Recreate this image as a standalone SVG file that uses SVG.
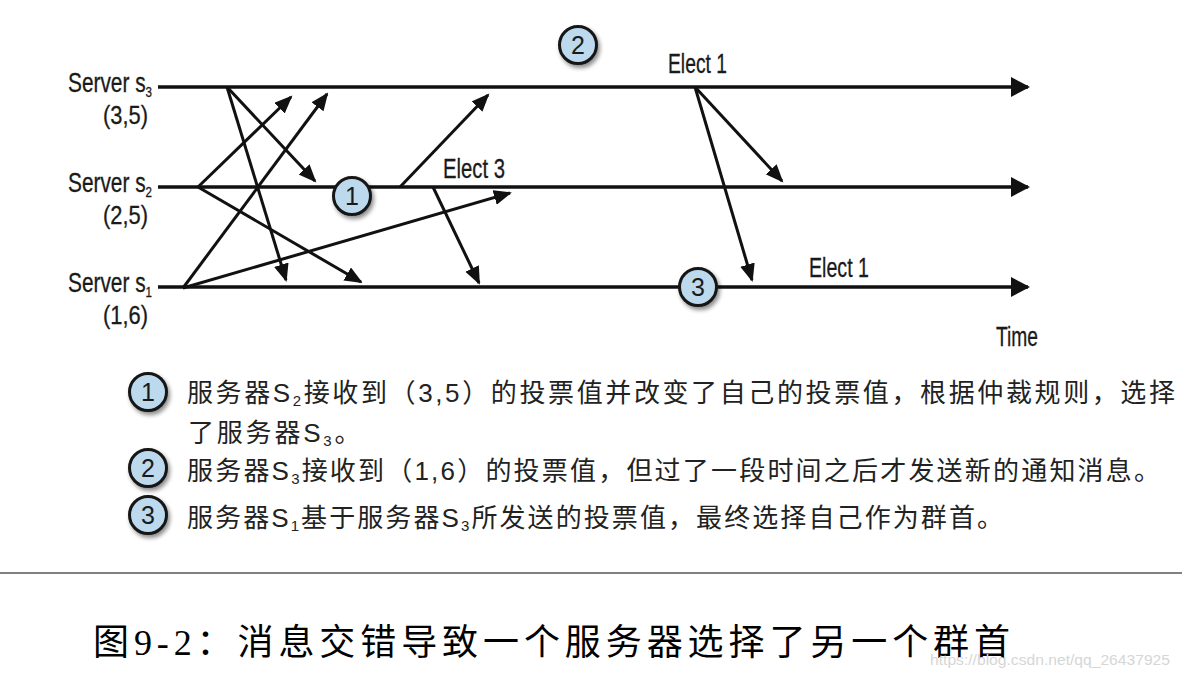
<svg xmlns="http://www.w3.org/2000/svg" width="1182" height="678" viewBox="0 0 1182 678">
  <style>
    .lbl { font-family: "Liberation Sans", Arial, sans-serif; font-size: 27px; fill: #1a1a1a; stroke: #1a1a1a; stroke-width: 0.3px; }
    .coord { font-family: "Liberation Sans", Arial, sans-serif; font-size: 25px; fill: #1a1a1a; stroke: #1a1a1a; stroke-width: 0.3px; text-anchor: end; }
    .sub { font-size: 15px; }
    .num { font-family: "Liberation Sans", Arial, sans-serif; font-size: 25px; fill: #1a1a1a; text-anchor: middle; }
    .timeline { stroke: #111; stroke-width: 3.5; fill: none; }
    .msg { stroke: #111; stroke-width: 3; fill: none; }
    .badge { fill: #bcd9ee; stroke: #151515; stroke-width: 3; }
    .legend { font-family: "Noto Sans CJK SC", "Liberation Sans", sans-serif; font-size: 26px; fill: #222; }
    .lsub { font-family: "Liberation Sans", sans-serif; font-size: 15px; }
    .ls { font-family: "Liberation Sans", sans-serif; }
    .caption { font-family: "Liberation Serif", "Noto Sans CJK SC", serif; font-size: 36px; fill: #000; }
    .wm { font-family: "Liberation Sans", Arial, sans-serif; font-size: 15px; fill: #d6d6d6; }
  </style>
  <defs>
    <marker id="bigHead" markerUnits="userSpaceOnUse" markerWidth="20" markerHeight="22" refX="17" refY="10" orient="auto">
      <path d="M0,0 L19,10 L0,20 Z" fill="#111"/>
    </marker>
    <marker id="head" markerUnits="userSpaceOnUse" markerWidth="20" markerHeight="16" refX="16" refY="7.5" orient="auto">
      <path d="M0,0 L18,7.5 L0,15 Z" fill="#111"/>
    </marker>
    <filter id="shadow" x="-40%" y="-40%" width="190%" height="190%">
      <feDropShadow dx="2" dy="3" stdDeviation="2" flood-color="#000" flood-opacity="0.45"/>
    </filter>
  </defs>

  <rect x="0" y="0" width="1182" height="678" fill="#ffffff"/>

  <!-- Timelines -->
  <g id="server-s3">
    <text class="lbl" x="68" y="92" textLength="84" lengthAdjust="spacingAndGlyphs">Server s<tspan class="sub" dy="5">3</tspan></text>
    <text class="coord" x="148" y="124" textLength="45" lengthAdjust="spacingAndGlyphs">(3,5)</text>
    <line class="timeline" x1="158" y1="87" x2="1028" y2="87" marker-end="url(#bigHead)"/>
  </g>
  <g id="server-s2">
    <text class="lbl" x="68" y="192" textLength="84" lengthAdjust="spacingAndGlyphs">Server s<tspan class="sub" dy="5">2</tspan></text>
    <text class="coord" x="148" y="224" textLength="45" lengthAdjust="spacingAndGlyphs">(2,5)</text>
    <line class="timeline" x1="158" y1="187" x2="1028" y2="187" marker-end="url(#bigHead)"/>
  </g>
  <g id="server-s1">
    <text class="lbl" x="68" y="292" textLength="84" lengthAdjust="spacingAndGlyphs">Server s<tspan class="sub" dy="5">1</tspan></text>
    <text class="coord" x="148" y="324" textLength="45" lengthAdjust="spacingAndGlyphs">(1,6)</text>
    <line class="timeline" x1="158" y1="287" x2="1028" y2="287" marker-end="url(#bigHead)"/>
  </g>

  <!-- Messages -->
  <g id="connectors">
    <line class="msg" x1="227" y1="87" x2="315" y2="181" marker-end="url(#head)"/>
    <line class="msg" x1="227" y1="87" x2="286" y2="280" marker-end="url(#head)"/>
    <line class="msg" x1="198" y1="187" x2="291" y2="97" marker-end="url(#head)"/>
    <line class="msg" x1="198" y1="187" x2="361" y2="282" marker-end="url(#head)"/>
    <line class="msg" x1="183" y1="288" x2="327" y2="94" marker-end="url(#head)"/>
    <line class="msg" x1="183" y1="288" x2="510" y2="193" marker-end="url(#head)"/>
    <line class="msg" x1="400" y1="187" x2="488" y2="95" marker-end="url(#head)"/>
    <line class="msg" x1="433" y1="187" x2="479" y2="283" marker-end="url(#head)"/>
    <line class="msg" x1="695" y1="87" x2="782" y2="181" marker-end="url(#head)"/>
    <line class="msg" x1="695" y1="87" x2="752" y2="280" marker-end="url(#head)"/>
  </g>

  <!-- Event labels -->
  <g id="elect3">
    <text class="lbl" x="443" y="178" textLength="62" lengthAdjust="spacingAndGlyphs">Elect 3</text>
  </g>
  <g id="elect1-s3">
    <text class="lbl" x="668" y="73" textLength="59" lengthAdjust="spacingAndGlyphs">Elect 1</text>
  </g>
  <g id="elect1-s1">
    <text class="lbl" x="809" y="277" textLength="60" lengthAdjust="spacingAndGlyphs">Elect 1</text>
  </g>
  <g id="time-label">
    <text class="lbl" x="996" y="346" textLength="42" lengthAdjust="spacingAndGlyphs">Time</text>
  </g>

  <!-- Numbered markers -->
  <g id="badge-1">
    <circle class="badge" cx="352" cy="196" r="18.5" filter="url(#shadow)"/>
    <text class="num" x="352" y="205">1</text>
  </g>
  <g id="badge-2">
    <circle class="badge" cx="578" cy="45" r="18.5" filter="url(#shadow)"/>
    <text class="num" x="578" y="54">2</text>
  </g>
  <g id="badge-3">
    <circle class="badge" cx="698" cy="287" r="18.5" filter="url(#shadow)"/>
    <text class="num" x="698" y="296">3</text>
  </g>

  <!-- Legend -->
  <g id="legend-1">
    <circle class="badge" cx="148" cy="392" r="18.5" filter="url(#shadow)"/>
    <text class="num" x="148" y="401">1</text>
    <text class="legend" x="187" y="402" textLength="988" lengthAdjust="spacing">服务器<tspan class="ls">S</tspan><tspan class="lsub" dy="4">2</tspan><tspan dy="-4">接收到（</tspan><tspan class="ls">3,5</tspan>）的投票值并改变了自己的投票值，根据仲裁规则，选择</text>
    <text class="legend" x="188" y="442" letter-spacing="2.8">了服务器<tspan class="ls">S</tspan><tspan class="lsub" dy="4">3</tspan><tspan dy="-4">。</tspan></text>
  </g>
  <g id="legend-2">
    <circle class="badge" cx="148" cy="468" r="18.5" filter="url(#shadow)"/>
    <text class="num" x="148" y="477">2</text>
    <text class="legend" x="187" y="480" textLength="973" lengthAdjust="spacing">服务器<tspan class="ls">S</tspan><tspan class="lsub" dy="4">3</tspan><tspan dy="-4">接收到（</tspan><tspan class="ls">1,6</tspan>）的投票值，但过了一段时间之后才发送新的通知消息。</text>
  </g>
  <g id="legend-3">
    <circle class="badge" cx="148" cy="515" r="18.5" filter="url(#shadow)"/>
    <text class="num" x="148" y="524">3</text>
    <text class="legend" x="187" y="527" textLength="816" lengthAdjust="spacing">服务器<tspan class="ls">S</tspan><tspan class="lsub" dy="4">1</tspan><tspan dy="-4">基于服务器</tspan><tspan class="ls">S</tspan><tspan class="lsub" dy="4">3</tspan><tspan dy="-4">所发送的投票值，最终选择自己作为群首。</tspan></text>
  </g>

  <!-- Separator and caption -->
  <line x1="0" y1="573" x2="1182" y2="573" stroke="#808080" stroke-width="2"/>
  <text class="caption" x="93" y="655" textLength="917" lengthAdjust="spacing">图9-2：消息交错导致一个服务器选择了另一个群首</text>
  <text class="wm" x="930" y="665" textLength="240" lengthAdjust="spacingAndGlyphs">https://blog.csdn.net/qq_26437925</text>
</svg>
